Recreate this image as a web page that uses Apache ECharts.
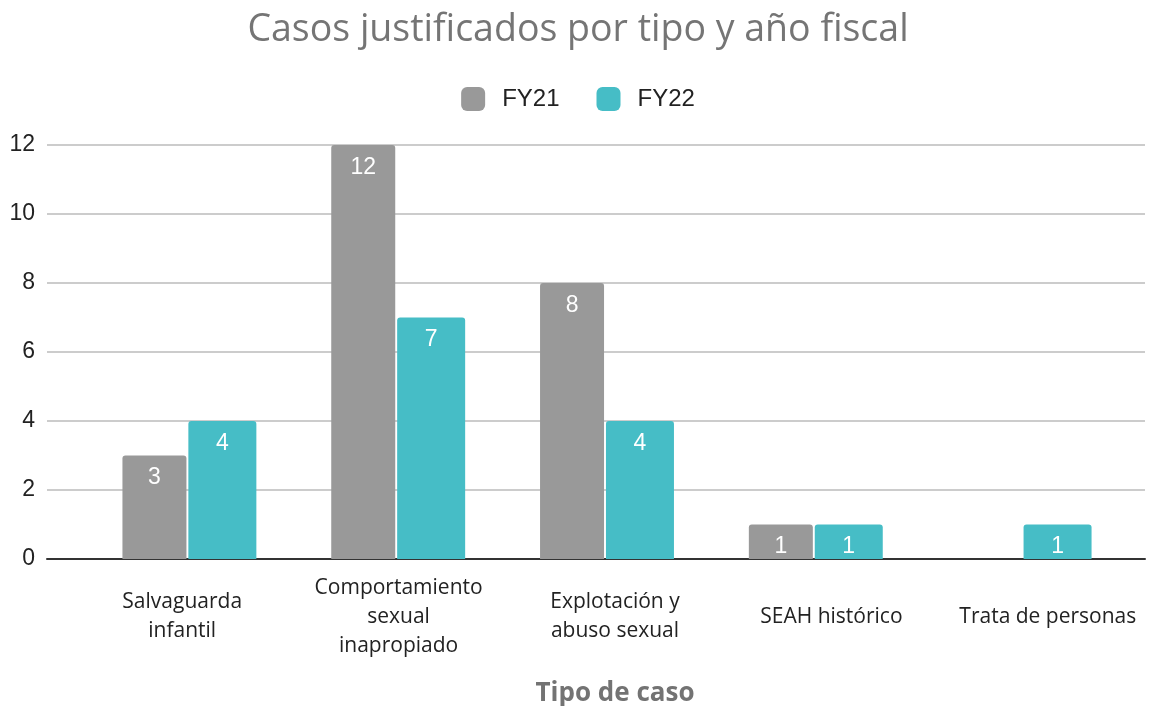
<!DOCTYPE html>
<html>
<head>
<meta charset="utf-8">
<script src="https://cdn.jsdelivr.net/npm/echarts@6/dist/echarts.min.js"></script>
<style>
  html, body { margin: 0; padding: 0; background: #fff; }
  #chart { width: 1156px; height: 706px; }
</style>
</head>
<body>
<div id="chart"></div>
<script>
// Data
const categories = [
  'Salvaguarda\ninfantil',
  'Comportamiento\nsexual\ninapropiado',
  'Explotación y\nabuso sexual',
  'SEAH histórico',
  'Trata de personas',
];
const fy21 = [3, 12, 8, 1, null];
const fy22 = [4, 7, 4, 1, 1];
const yTicks = [0, 2, 4, 6, 8, 10, 12];

const GRAY = '#999999';
const TEAL = '#46bdc6';

const chart = echarts.init(document.getElementById('chart'));

const dataLabel = {
  show: true,
  position: 'insideTop',
  distance: 11,
  color: '#fff',
  fontFamily: 'Liberation Sans, Arial, sans-serif',
  fontSize: 23,
};

const option = {
  title: {
    text: 'Casos justificados por tipo y año fiscal',
    left: 'center',
    top: 6,
    textStyle: {
      fontFamily: 'Open Sans',
      fontWeight: 'normal',
      fontSize: 37.5,
      color: '#757575',
    },
  },
  legend: {
    top: 82,
    left: 'center',
    itemWidth: 24,
    itemHeight: 24,
    itemGap: 37,
    icon: 'roundRect',
    data: ['FY21', 'FY22'],
    textStyle: {
      fontFamily: 'Liberation Sans, Arial, sans-serif',
      fontSize: 24,
      color: '#222',
      padding: [0, 0, 0, 12],
    },
  },
  grid: [
    // full-width grid: y labels, gridlines, baseline
    { left: 47, right: 11, top: 145, bottom: 147, outerBoundsMode: 'none' },
    // bars
    { left: 85, right: 27, top: 145, bottom: 147, outerBoundsMode: 'none' },
    // category labels
    { left: 74, right: 0, top: 145, bottom: 147, outerBoundsMode: 'none' },
  ],
  xAxis: [
    {
      gridIndex: 0,
      type: 'category',
      data: categories,
      axisLine: { lineStyle: { color: '#333', width: 2 } },
      axisTick: { show: false },
      axisLabel: { show: false },
    },
    {
      gridIndex: 1,
      type: 'category',
      data: categories,
      axisLine: { show: false },
      axisTick: { show: false },
      axisLabel: { show: false },
    },
    {
      gridIndex: 2,
      type: 'category',
      data: categories,
      axisLine: { show: false },
      axisTick: { show: false },
      axisLabel: {
        margin: 58,
        verticalAlign: 'middle',
        fontFamily: 'Open Sans',
        fontSize: 21,
        lineHeight: 29,
        color: '#222',
        interval: 0,
      },
      name: 'Tipo de caso',
      nameLocation: 'middle',
      nameGap: 122,
      nameTextStyle: {
        fontFamily: 'Open Sans',
        fontWeight: 'bold',
        fontSize: 26,
        color: '#737373',
      },
    },
  ],
  yAxis: [
    {
      gridIndex: 0,
      type: 'value',
      min: yTicks[0],
      max: yTicks[yTicks.length - 1],
      interval: 2,
      axisLine: { show: false },
      axisTick: { show: false },
      axisLabel: {
        margin: 12,
        fontFamily: 'Liberation Sans, Arial, sans-serif',
        fontSize: 23,
        color: '#222',
      },
      splitLine: { lineStyle: { color: '#cccccc', width: 2 } },
    },
    {
      gridIndex: 1,
      type: 'value',
      min: yTicks[0],
      max: yTicks[yTicks.length - 1],
      interval: 2,
      show: false,
    },
    {
      gridIndex: 2,
      type: 'value',
      min: yTicks[0],
      max: yTicks[yTicks.length - 1],
      show: false,
    },
  ],
  series: [
    {
      name: 'FY21',
      type: 'bar',
      xAxisIndex: 1,
      yAxisIndex: 1,
      data: fy21,
      barWidth: 64,
      barGap: '3%',
      itemStyle: { color: GRAY, borderRadius: [3, 3, 0, 0] },
      label: dataLabel,
      z: 3,
    },
    {
      name: 'FY22',
      type: 'bar',
      xAxisIndex: 1,
      yAxisIndex: 1,
      data: fy22,
      barWidth: 68,
      itemStyle: { color: TEAL, borderRadius: [3, 3, 0, 0] },
      label: dataLabel,
      z: 3,
    },
  ],
};

chart.setOption(option);
window.addEventListener('resize', () => chart.resize());
</script>
</body>
</html>
